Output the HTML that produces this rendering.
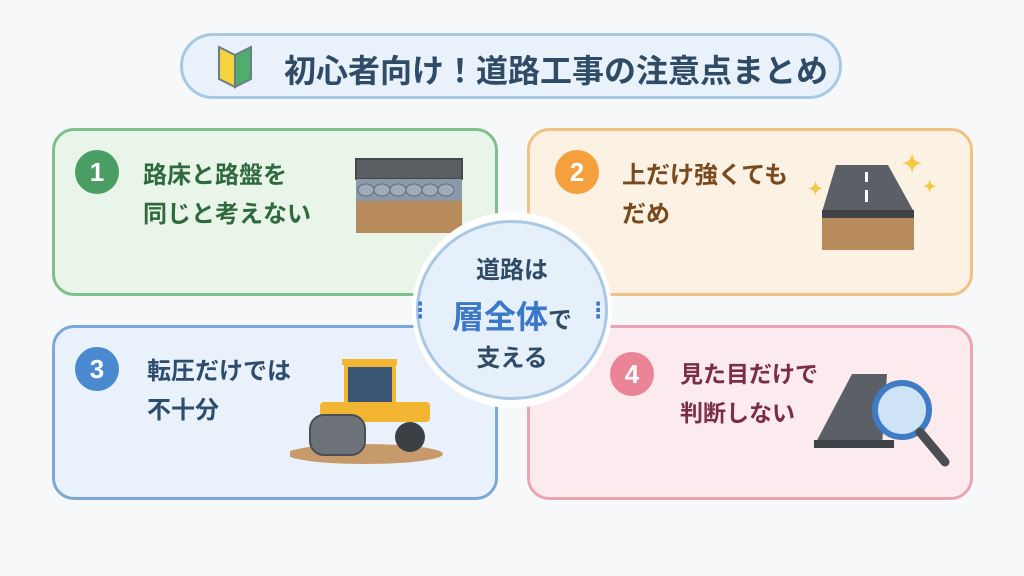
<!DOCTYPE html>
<html><head><meta charset="utf-8"><style>
body{margin:0;width:1024px;height:576px;background:#f7f8fa;position:relative;overflow:hidden;font-family:"Liberation Sans","Noto Sans CJK JP",sans-serif;font-weight:bold}
.abs{position:absolute}
.title{left:180px;top:33px;width:662px;height:66px;border:3px solid #a9c8e6;border-radius:36px;background:#e9f2fb;box-sizing:border-box}
.title span{position:absolute;left:101px;top:10px;font-size:32px;color:#2f4b66;letter-spacing:0}
.card{border:3px solid;border-radius:22px;box-sizing:border-box}
.num{width:44px;height:44px;border-radius:50%;color:#fff;font-size:26px;text-align:center;line-height:44px}
.txt{font-size:24px;line-height:39px}
</style></head><body>
<div class="abs title"><span>初心者向け！道路工事の注意点まとめ</span>
<svg class="abs" style="left:30px;top:7px" width="46" height="50"><path d="M6 4 L22 12 L22 44 L6 36Z" fill="#f4d33d" stroke="#6a7d8c" stroke-width="2"/><path d="M38 4 L22 12 L22 44 L38 36Z" fill="#4fae6c" stroke="#6a7d8c" stroke-width="2"/></svg></div>

<div class="abs card" style="left:52px;top:128px;width:446px;height:168px;border-color:#7fbf8c;background:#eaf5ea"></div>
<div class="abs card" style="left:527px;top:128px;width:446px;height:168px;border-color:#f2c283;background:#fcf2e4"></div>
<div class="abs card" style="left:52px;top:325px;width:446px;height:175px;border-color:#7aa9d9;background:#e9f2fb"></div>
<div class="abs card" style="left:527px;top:325px;width:446px;height:175px;border-color:#eba4b1;background:#fcebee"></div>

<div class="abs num" style="left:75px;top:150px;background:#4a9e63">1</div>
<div class="abs txt" style="left:143px;top:156px;color:#2e6a3e">路床と路盤を<br>同じと考えない</div>
<div class="abs num" style="left:555px;top:150px;background:#f4a03c">2</div>
<div class="abs txt" style="left:622px;top:156px;color:#7a4a1e">上だけ強くても<br>だめ</div>
<div class="abs num" style="left:75px;top:347px;background:#4a88cf">3</div>
<div class="abs txt" style="left:147px;top:352px;color:#2d4c6e">転圧だけでは<br>不十分</div>
<div class="abs num" style="left:610px;top:352px;background:#ea8496">4</div>
<div class="abs txt" style="left:680px;top:355px;color:#7a2d44;font-size:23px">見た目だけで<br>判断しない</div>

<svg class="abs" style="left:354px;top:157px" width="110" height="78">
<rect x="2" y="2" width="106" height="20" fill="#5a5d62" stroke="#44474c" stroke-width="2"/>
<rect x="2" y="22" width="106" height="22" fill="#8c99a8"/>
<g fill="#9eabb9" stroke="#5f6b78" stroke-width="1"><ellipse cx="12" cy="33" rx="8" ry="6"/><ellipse cx="28" cy="33" rx="8" ry="6"/><ellipse cx="44" cy="33" rx="8" ry="6"/><ellipse cx="60" cy="33" rx="8" ry="6"/><ellipse cx="76" cy="33" rx="8" ry="6"/><ellipse cx="92" cy="33" rx="8" ry="6"/></g>
<rect x="2" y="44" width="106" height="32" fill="#b98c5e"/>
</svg>
<svg class="abs" style="left:808px;top:150px" width="135" height="105">
<path d="M28 15 L80 15 L106 62 L14 62 Z" fill="#5b5f66"/>
<rect x="14" y="60" width="92" height="8" fill="#3f4247"/>
<rect x="14" y="68" width="92" height="32" fill="#b98c5e"/>
<rect x="57" y="22" width="3" height="10" fill="#fff"/><rect x="57" y="40" width="3" height="12" fill="#fff"/>
<text x="0" y="45" font-size="18" fill="#f4c842">✦</text><text x="94" y="22" font-size="24" fill="#f4c842">✦</text><text x="115" y="42" font-size="16" fill="#f4c842">✦</text>
</svg>
<svg class="abs" style="left:290px;top:357px" width="160" height="108">
<ellipse cx="75" cy="97" rx="78" ry="10" fill="#c79a6c"/>
<rect x="52" y="2" width="55" height="6" fill="#f2b632"/>
<rect x="56" y="8" width="48" height="40" fill="#3b5675" stroke="#f2b632" stroke-width="4"/>
<rect x="30" y="45" width="110" height="20" rx="4" fill="#f2b632"/>
<rect x="20" y="58" width="55" height="40" rx="14" fill="#6e7379" stroke="#4a4e53" stroke-width="2"/>
<circle cx="120" cy="80" r="15" fill="#3c3f44"/>
</svg>
<svg class="abs" style="left:812px;top:370px" width="140" height="100">
<path d="M40 4 L75 4 L70 76 L2 76 Z" fill="#5b5f66"/>
<rect x="2" y="70" width="80" height="8" fill="#3f4247"/>
<circle cx="90" cy="40" r="27" fill="#cfe3f6" stroke="#3f7cc4" stroke-width="6"/>
<line x1="108" y1="62" x2="133" y2="92" stroke="#4a4e53" stroke-width="9" stroke-linecap="round"/>
</svg>

<div class="abs" style="left:412px;top:212px;width:200px;height:196px;border-radius:50%;background:#fff"></div>
<div class="abs" style="left:416px;top:220px;width:192px;height:180px;border-radius:50%;background:#e6f0fa;border:3px solid #a9c8e6;box-sizing:border-box"></div>
<div class="abs" style="left:416px;top:250px;width:192px;text-align:center;color:#2f4b66;font-size:24px">道路は</div>
<div class="abs" style="left:416px;top:292px;width:192px;text-align:center;color:#3c78c8;font-size:32px">層全体<span style="font-size:24px;color:#2f4b66">で</span></div>
<div class="abs" style="left:416px;top:338px;width:192px;text-align:center;color:#2f4b66;font-size:24px">支える</div>
<div class="abs" style="left:416px;top:295px;color:#3c78c8;font-size:26px">⁝</div>
<div class="abs" style="left:594px;top:295px;color:#3c78c8;font-size:26px">⁝</div>
</body></html>
